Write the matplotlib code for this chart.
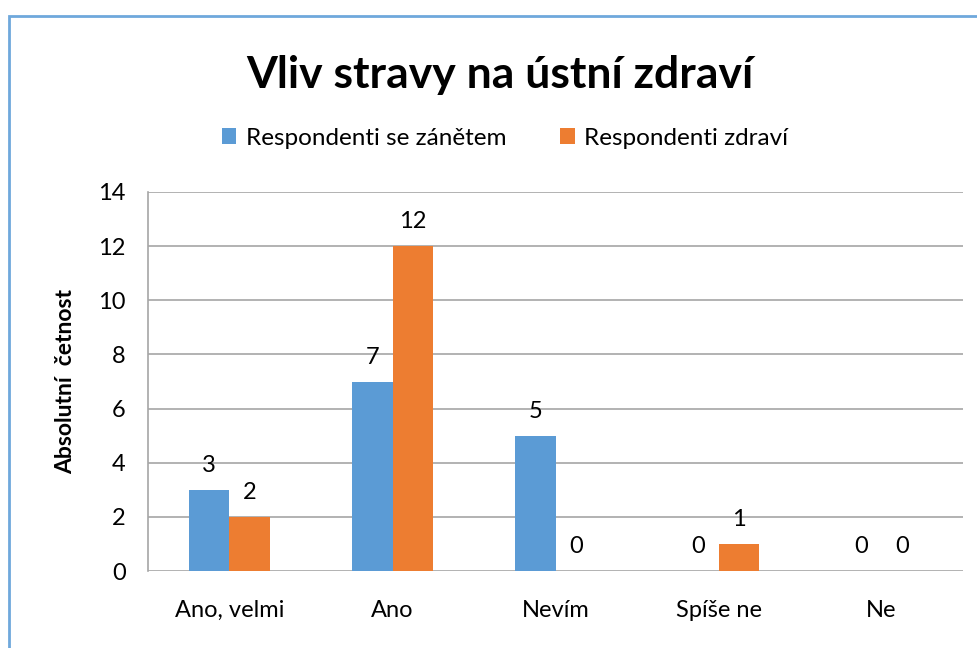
import numpy as np
import matplotlib.pyplot as plt
from matplotlib.patches import Rectangle

categories = ["Ano, velmi", "Ano", "Nevím", "Spíše ne", "Ne"]
zanet = [3, 7, 5, 0, 0]
zdravi = [2, 12, 0, 1, 0]
series_names = ["Respondenti se zánětem", "Respondenti zdraví"]

blue = "#5B9BD5"
orange = "#ED7D31"

plt.rcParams["font.family"] = ["Lato", "DejaVu Sans"]

fig = plt.figure(figsize=(9.78, 6.48), dpi=100)
ax = fig.add_axes([148 / 978, 1 - 571 / 648, 815 / 978, 379 / 648])

# chart frame (cut off at right and bottom like the screenshot)
fig.patches.append(Rectangle((9 / 978, -0.1), 1.2, (648 - 16) / 648 + 0.1,
                             transform=fig.transFigure, fill=False,
                             edgecolor="#6FA8DC", linewidth=2))

x = np.arange(len(categories))
w = 0.25
b1 = ax.bar(x - w / 2, zanet, w, color=blue, label=series_names[0], zorder=3)
b2 = ax.bar(x + w / 2, zdravi, w, color=orange, label=series_names[1], zorder=3)

for bars, vals in [(b1, zanet), (b2, zdravi)]:
    for bar, v in zip(bars, vals):
        ax.annotate(str(v), (bar.get_x() + bar.get_width() / 2, v),
                    xytext=(0, 10), textcoords="offset points",
                    ha="center", va="bottom", fontsize=17)

ax.set_xlim(-0.5, len(categories) - 0.5)
ax.set_ylim(0, 14)
ax.set_yticks(range(0, 15, 2))
ax.set_xticks(x)
ax.set_xticklabels(categories)
ax.tick_params(axis="both", length=0, labelsize=17)
ax.tick_params(axis="x", pad=21)
ax.tick_params(axis="y", pad=16)
ax.grid(axis="y", color="#A6A6A6", linewidth=1.2, zorder=0)
for s in ["top", "right", "bottom"]:
    ax.spines[s].set_visible(False)
ax.spines["left"].set_color("#A6A6A6")
ax.spines["left"].set_linewidth(1.2)

ax.set_ylabel("Absolutní  četnost", fontsize=16.5, fontweight="bold", labelpad=16)

fig.text(500 / 978, 1 - 75 / 648, "Vliv stravy na ústní zdraví", ha="center",
         va="center", fontsize=32, fontweight="bold")
fig.legend(loc="center", bbox_to_anchor=(505 / 978, 1 - 138 / 648), ncol=2,
           frameon=False, fontsize=17.5, handlelength=0.6, handleheight=0.6,
           handletextpad=0.4, columnspacing=2.2)

fig.savefig("out.png", dpi=100)
